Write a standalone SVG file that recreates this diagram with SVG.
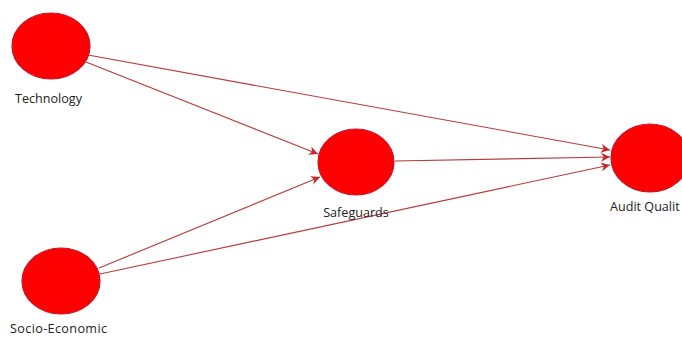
<svg xmlns="http://www.w3.org/2000/svg" width="682" height="338" viewBox="0 0 682 338">
<style>
.node{fill:#ff0000;stroke:#c4162a;stroke-width:1.2}
.lbl{font-family:"Open Sans","Liberation Sans",sans-serif;font-size:12.6px;fill:#222}
.edge{stroke:#b83a3a;stroke-width:1.1;fill:none;marker-end:url(#arr)}
</style>
<defs>
<marker id="arr" viewBox="0 0 10 10" refX="10" refY="5" markerWidth="9" markerHeight="9" markerUnits="userSpaceOnUse" orient="auto">
<path d="M0,0 L10,5 L0,10 L3,5 Z" fill="#c42a2a"/>
</marker>
</defs>
<rect width="682" height="338" fill="#ffffff"/>
<g id="connectors">
<line class="edge" x1="88" y1="55" x2="610" y2="150"/>
<line class="edge" x1="86" y1="62" x2="318" y2="154"/>
<line class="edge" x1="395" y1="161" x2="610" y2="157"/>
<line class="edge" x1="99" y1="268" x2="320" y2="177"/>
<line class="edge" x1="100" y1="274" x2="610" y2="165"/>
</g>
<g id="technology">
<ellipse class="node" cx="51" cy="46" rx="39" ry="33"/>
<text class="lbl" x="15" y="103">Technology</text>
</g>
<g id="safeguards">
<ellipse class="node" cx="356" cy="162" rx="38" ry="33"/>
<text class="lbl" x="356" y="217" text-anchor="middle">Safeguards</text>
</g>
<g id="audit-quality">
<ellipse class="node" cx="650" cy="158" rx="39" ry="34"/>
<text class="lbl" x="610" y="211">Audit Qualit</text>
</g>
<g id="socio-economic">
<ellipse class="node" cx="61" cy="281" rx="39" ry="33"/>
<text class="lbl" x="10" y="333" textLength="97" lengthAdjust="spacing">Socio-Economic</text>
</g>
</svg>
